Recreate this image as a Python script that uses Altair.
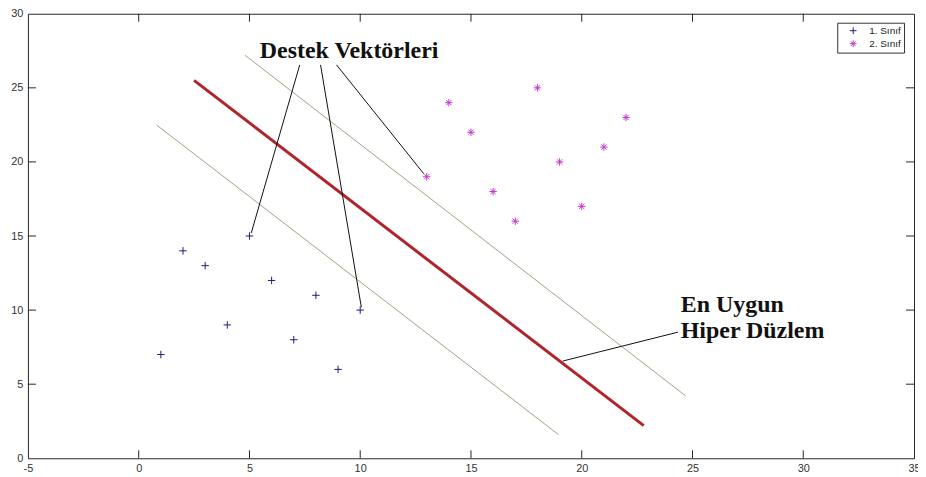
import altair as alt
import pandas as pd

# ---- data ----
class_names = ["1. Sınıf", "2. Sınıf"]
class1_x = [1, 2, 3, 4, 5, 6, 7, 8, 9, 10]
class1_y = [7, 14, 13, 9, 15, 12, 8, 11, 6, 10]
class2_x = [13, 14, 15, 16, 17, 18, 19, 20, 21, 22]
class2_y = [19, 24, 22, 18, 16, 25, 20, 17, 21, 23]

hyperplane_x = [2.5, 22.8]
hyperplane_y = [25.5, 2.2]
upper_margin_x = [4.8, 24.7]
upper_margin_y = [27.2, 4.2]
lower_margin_x = [0.8, 18.95]
lower_margin_y = [22.5, 1.6]

sv_label = ["Destek Vektörleri"]
sv_label_x = [9.5]
sv_label_y = [27.0]
sv_ptr_x1 = [7.27, 8.21, 8.93]
sv_ptr_y1 = [26.55, 26.55, 26.55]
sv_ptr_x2 = [5.08, 10.05, 12.87]
sv_ptr_y2 = [15.2, 10.2, 19.2]

hp_label = ["En Uygun", "Hiper Düzlem"]
hp_label_x = [24.47, 24.47]
hp_label_y = [9.85, 8.1]
hp_ptr_x1 = [19.14]
hp_ptr_y1 = [6.56]
hp_ptr_x2 = [24.34]
hp_ptr_y2 = [8.51]

x_ticks = [-5, 0, 5, 10, 15, 20, 25, 30, 35]
y_ticks = [0, 5, 10, 15, 20, 25, 30]
x_inner_ticks = x_ticks[1:-1]
y_inner_ticks = y_ticks[1:-1]

W, H = 889, 446
TICK = 8
AXIS_COLOR = "#262626"

xs = alt.Scale(domain=[-5, 35], nice=False, zero=False)
ys = alt.Scale(domain=[0, 30], nice=False, zero=False)
xaxis = alt.Axis(values=x_ticks, title=None, domain=False, ticks=False, grid=False,
                 labelFlush=False, labelFontSize=11, labelColor="#333333",
                 labelFont="Liberation Sans", labelPadding=4,
                 labelExpr="datum.value + ''")
yaxis = alt.Axis(values=y_ticks, title=None, domain=False, ticks=False, grid=False,
                 labelFlush=False, labelFontSize=11, labelColor="#333333",
                 labelFont="Liberation Sans", labelPadding=5, labelBaseline="middle",
                 labelExpr="datum.value + ''")

pts = pd.DataFrame({
    "x": class1_x + class2_x,
    "y": class1_y + class2_y,
    "cls": [class_names[0]] * len(class1_x) + [class_names[1]] * len(class2_x),
})

plus_path = "M-1,0L1,0M0,-1L0,1"
star_path = "M-1,0L1,0M0,-1L0,1M-0.7,-0.7L0.7,0.7M-0.7,0.7L0.7,-0.7"

legend = alt.Legend(title=None, orient="none", legendX=812, legendY=9,
                    strokeColor="#333333", fillColor="white", padding=3,
                    labelFontSize=10, labelFont="Liberation Sans",
                    labelColor="#222222", symbolOffset=8, labelOffset=11,
                    rowPadding=1, symbolStrokeWidth=1, symbolSize=45)

points = alt.Chart(pts).mark_point(filled=False, strokeWidth=1, size=56, opacity=1).encode(
    x=alt.X("x:Q", scale=xs, axis=xaxis),
    y=alt.Y("y:Q", scale=ys, axis=yaxis),
    color=alt.Color("cls:N", scale=alt.Scale(domain=class_names, range=["#1e1e78", "#c03cc8"]),
                    legend=legend),
    shape=alt.Shape("cls:N", scale=alt.Scale(domain=class_names, range=[plus_path, star_path]),
                    legend=legend),
)

def seg_df(x1, y1, x2, y2):
    return pd.DataFrame({"x": x1, "y": y1, "x2": x2, "y2": y2})

def seg_layer(df, color, width):
    return alt.Chart(df).mark_rule(color=color, strokeWidth=width).encode(
        x=alt.X("x:Q", scale=xs, axis=xaxis),
        y=alt.Y("y:Q", scale=ys, axis=yaxis),
        x2="x2:Q", y2="y2:Q",
    )

upper = seg_layer(seg_df([upper_margin_x[0]], [upper_margin_y[0]], [upper_margin_x[1]], [upper_margin_y[1]]), "#a89f80", 1)
lower = seg_layer(seg_df([lower_margin_x[0]], [lower_margin_y[0]], [lower_margin_x[1]], [lower_margin_y[1]]), "#a89f80", 1)
hyper = seg_layer(seg_df([hyperplane_x[0]], [hyperplane_y[0]], [hyperplane_x[1]], [hyperplane_y[1]]), "#b0242c", 3)
sv_ptr = seg_layer(seg_df(sv_ptr_x1, sv_ptr_y1, sv_ptr_x2, sv_ptr_y2), "#111111", 1)
hp_ptr = seg_layer(seg_df(hp_ptr_x1, hp_ptr_y1, hp_ptr_x2, hp_ptr_y2), "#111111", 1)

sv_text = alt.Chart(pd.DataFrame({"x": sv_label_x, "y": sv_label_y, "t": sv_label})).mark_text(
    font="Liberation Serif", fontWeight="bold", fontSize=24, align="center",
    baseline="alphabetic", color="#111111").encode(
    x=alt.X("x:Q", scale=xs, axis=xaxis), y=alt.Y("y:Q", scale=ys, axis=yaxis), text="t:N")

hp_text = alt.Chart(pd.DataFrame({"x": hp_label_x, "y": hp_label_y, "t": hp_label})).mark_text(
    font="Liberation Serif", fontWeight="bold", fontSize=24, align="left",
    baseline="alphabetic", color="#111111").encode(
    x=alt.X("x:Q", scale=xs, axis=xaxis), y=alt.Y("y:Q", scale=ys, axis=yaxis), text="t:N")

xt = pd.DataFrame({"x": x_inner_ticks})
yt = pd.DataFrame({"y": y_inner_ticks})
tick_bottom = alt.Chart(xt).mark_rule(color=AXIS_COLOR, strokeWidth=1).encode(
    x=alt.X("x:Q", scale=xs, axis=xaxis), y=alt.value(H), y2=alt.value(H - TICK))
tick_top = alt.Chart(xt).mark_rule(color=AXIS_COLOR, strokeWidth=1).encode(
    x=alt.X("x:Q", scale=xs, axis=xaxis), y=alt.value(0), y2=alt.value(TICK))
tick_left = alt.Chart(yt).mark_rule(color=AXIS_COLOR, strokeWidth=1).encode(
    y=alt.Y("y:Q", scale=ys, axis=yaxis), x=alt.value(0), x2=alt.value(TICK))
tick_right = alt.Chart(yt).mark_rule(color=AXIS_COLOR, strokeWidth=1).encode(
    y=alt.Y("y:Q", scale=ys, axis=yaxis), x=alt.value(W), x2=alt.value(W - TICK))

chart = alt.layer(
    tick_bottom, tick_top, tick_left, tick_right,
    lower, upper, hyper, sv_ptr, hp_ptr, points, sv_text, hp_text,
).properties(
    width=W, height=H,
    autosize=alt.AutoSizeParams(type="none"),
    padding={"left": 20, "top": 5, "right": 4, "bottom": 14},
    background="white",
).configure_view(stroke=AXIS_COLOR, strokeWidth=1)

chart.save("out.html", embed_options={"renderer": "svg", "actions": False})
